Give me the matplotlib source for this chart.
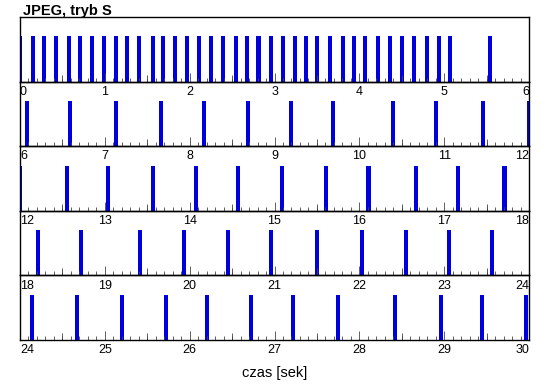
import numpy as np
import matplotlib
matplotlib.use("Agg")
import matplotlib.pyplot as plt

plt.rcParams['font.family'] = ['Liberation Sans', 'DejaVu Sans']

# Times (s) of transmitted frames
frame_times = [
    0.00, 0.157, 0.287, 0.424, 0.578, 0.707, 0.845, 0.990, 1.132, 1.257,
    1.407, 1.564, 1.690, 1.827, 1.973, 2.114, 2.248, 2.389, 2.546, 2.680,
    2.810, 2.955, 3.104, 3.242, 3.371, 3.501, 3.654, 3.804, 3.933, 4.067,
    4.216, 4.362, 4.499, 4.648, 4.794, 4.939, 5.069, 5.540,
    6.079, 6.589, 7.132, 7.658, 8.173, 8.684, 9.191, 9.694, 10.393, 10.904,
    11.462, 12.000,
    12.558, 13.034, 13.564, 14.075, 14.566, 15.085, 15.604, 16.107, 16.665,
    17.160, 17.710,
    18.216, 18.715, 19.415, 19.937, 20.456, 20.959, 21.497, 22.035, 22.547,
    23.057, 23.560,
    24.138, 24.668, 25.206, 25.717, 26.200, 26.723, 27.214, 27.752, 28.421,
    28.959, 29.450, 29.961,
]
bar_height = [0.7] * len(frame_times)
panel_starts = [0, 6, 12, 18, 24]
panel_length = 6

title_text = "JPEG, tryb S"
xlabel_text = "czas [sek]"

W, H = 550, 389
fig = plt.figure(figsize=(W / 100, H / 100), dpi=100)
axes = fig.subplots(len(panel_starts), 1)
fig.subplots_adjust(left=20 / W, right=529 / W, top=1 - 17 / H,
                    bottom=1 - 340 / H, hspace=0)

tick_col = '#444444'
for ax, start in zip(axes, panel_starts):
    ax.patch.set_visible(False)
    ax.bar(frame_times, bar_height, width=0.05, color='#0000dd',
           align='center', linewidth=0)
    ax.set_xlim(start, start + panel_length)
    ax.set_ylim(0, 1)
    ax.set_yticks([])
    ticks = list(range(start, start + panel_length + 1))
    ax.set_xticks(ticks, [str(t) for t in ticks])
    ax.xaxis.set_minor_locator(matplotlib.ticker.MultipleLocator(0.1))
    ax.tick_params(axis='x', which='major', direction='in', length=6.5,
                   width=0.6, color=tick_col, labelsize=9, pad=3)
    ax.tick_params(axis='x', which='minor', direction='in', length=2.9,
                   width=0.6, color=tick_col)
    halves = np.arange(start + 0.5, start + panel_length, 1.0)
    ax.vlines(halves, 0, 0.108, color=tick_col,
              linewidth=0.6, transform=ax.get_xaxis_transform())
    for sp in ax.spines.values():
        sp.set_linewidth(1.0)
        sp.set_color('black')

fig.canvas.draw()
for ax in axes:
    labs = ax.get_xticklabels()
    labs[0].set_ha('left')
    labs[-1].set_ha('right')

fig.text(23 / W, 1 - 15 / H, title_text, fontweight='bold', fontsize=10.5,
         ha='left', va='baseline')
fig.text(275 / W, 1 - 376.5 / H, xlabel_text, fontsize=10.5, ha='center',
         va='baseline')

fig.savefig("out.png", dpi=100)
